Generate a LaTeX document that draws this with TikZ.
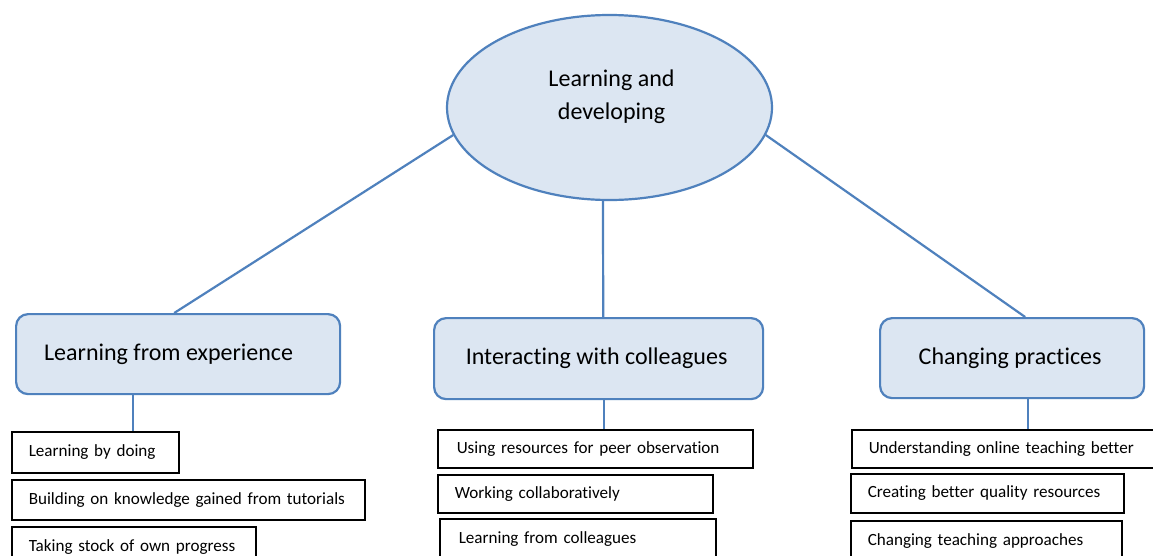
\documentclass[tikz,border=0pt]{standalone}
\usepackage{fontspec}
\setmainfont[Ligatures={NoCommon}]{Carlito}
\usetikzlibrary{shapes.geometric,calc}
\definecolor{ofblue}{HTML}{4F81BD}
\definecolor{offill}{HTML}{DCE6F2}
\tikzset{
  mainbox/.style={draw=ofblue, fill=offill, line width=2.2pt, rounded corners=12pt,
    anchor=north west, inner sep=0pt, font=\fontsize{24}{28}\selectfont},
  leafbox/.style={draw=black, fill=white, line width=1.5pt, anchor=north west,
    inner xsep=17pt, inner ysep=0pt, align=left, font=\fontsize{17.1}{20}\selectfont},
  link/.style={draw=ofblue, line width=2.2pt},
}
\begin{document}
\begin{tikzpicture}[x=1pt,y=-1pt]
\useasboundingbox (0,0) rectangle (1153,555);
\clip (0,0) rectangle (1153,555);
\fill[white] (0,0) rectangle (1153,555);
% central ellipse
\node[ellipse, draw=ofblue, fill=offill, line width=2.2pt, minimum width=325pt, minimum height=185pt, inner sep=0pt,
  label={[name=elltext, align=center, yshift=11pt, xshift=2pt, font=\fontsize{24}{33}\selectfont]center:Learning and\\developing}]
  (ell) at (609.5,107.5) {};
% main boxes
\node[mainbox, minimum width=324pt, minimum height=80pt] (b1) at (15,313) {\raisebox{-3pt}{Learning from experience}\hspace*{19pt}};
\node[mainbox, minimum width=329pt, minimum height=81pt] (b2) at (433,317) {\raisebox{-1pt}{Interacting with colleagues}\hspace*{4pt}};
\node[mainbox, minimum width=264pt, minimum height=80pt] (b3) at (879,317) {\raisebox{-1pt}{Changing practices}\hspace*{4pt}};
% leaves
\node[leafbox, minimum width=167pt, minimum height=41pt, text width=133pt] (l1) at (11,431) {Learning by doing};
\node[leafbox, minimum width=353pt, minimum height=40pt, text width=319pt] (l2) at (11,479) {Building on knowledge gained from tutorials};
\node[leafbox, minimum width=244pt, minimum height=41pt, text width=210pt] (l3) at (11,526) {Taking stock of own progress};
\node[leafbox, minimum width=311pt, minimum height=38pt, text width=277pt, inner xsep=19pt] (m1) at (437,429) {Using resources for peer observation};
\node[leafbox, minimum width=275pt, minimum height=38pt, text width=241pt] (m2) at (437,474) {Working collaboratively};
\node[leafbox, minimum width=276pt, minimum height=40pt, text width=238pt, inner xsep=19pt] (m3) at (439,518) {Learning from colleagues};
\node[leafbox, minimum width=312pt, minimum height=38pt, text width=278pt] (r1) at (851,429) {Understanding online teaching better};
\node[leafbox, minimum width=273pt, minimum height=39pt, text width=239pt] (r2) at (850,473) {Creating better quality resources};
\node[leafbox, minimum width=271pt, minimum height=40pt, text width=237pt] (r3) at (850,520) {Changing teaching approaches};
% connectors
\draw[link] (ell.190.2) -- ($(b1.north west)!0.488!(b1.north east)$);
\draw[link] (ell.266.6) -- ($(b2.north west)!0.514!(b2.north east)$);
\draw[link] (ell.350.7) -- ($(b3.north west)!0.549!(b3.north east)$);
\coordinate (s1) at ($(b1.south west)!0.361!(b1.south east)$);
\coordinate (s2) at ($(b2.south west)!0.517!(b2.south east)$);
\coordinate (s3) at ($(b3.south west)!0.561!(b3.south east)$);
\draw[link] (s1) -- (s1 |- l1.north);
\draw[link] (s2) -- (s2 |- m1.north);
\draw[link] (s3) -- (s3 |- r1.north);
\end{tikzpicture}
\end{document}
